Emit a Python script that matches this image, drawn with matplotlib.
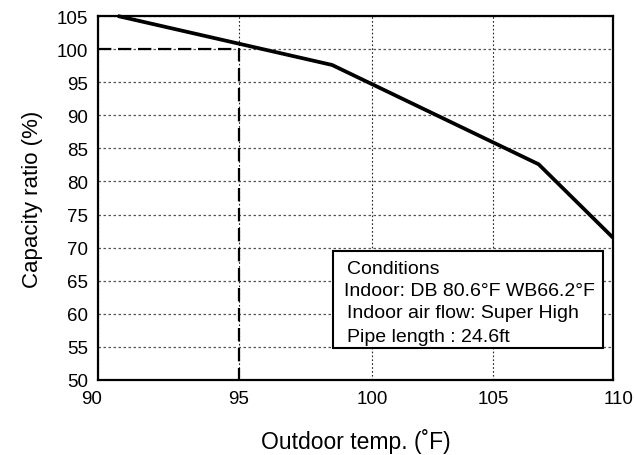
import numpy as np
import matplotlib
matplotlib.use("Agg")
import matplotlib.pyplot as plt
from matplotlib.transforms import ScaledTranslation

plt.rcParams['font.family'] = ['Liberation Sans', 'DejaVu Sans']

# Data
temp_f = [90.7, 98.5, 106.9, 110.0]
capacity = [105.0, 97.6, 82.6, 71.5]
ref_temp = 95
ref_cap = 100
x_ticks = [90, 95, 100, 105, 110]
y_ticks = list(range(50, 106, 5))
conditions = ["Conditions",
              "Indoor: DB 80.6°F WB66.2°F",
              "Indoor air flow: Super High",
              "Pipe length : 24.6ft"]

# Non-uniform x axis as drawn in the reference (tick value -> axis fraction)
scale_vals = [90, 95, 100, 105, 110]
scale_frac = [0.0, 0.2738, 0.5320, 0.7670, 1.0]

def fwd(x):
    return np.interp(x, scale_vals, scale_frac)

def inv(f):
    return np.interp(f, scale_frac, scale_vals)

fig = plt.figure(figsize=(6.34, 4.56), dpi=100)
ax = fig.add_axes([98/634, 1-381/456, (613-98)/634, (381-17)/456])
ax.set_xscale('function', functions=(fwd, inv))
ax.set_xlim(90, 110)
ax.set_ylim(50, 105)
ax.set_xticks(x_ticks)
ax.set_yticks(y_ticks)
ax.set_xticklabels([str(v) for v in x_ticks])
ax.tick_params(axis='both', length=0, labelsize=13.5)
ax.tick_params(axis='y', pad=7)
ax.tick_params(axis='x', pad=7)

# edge x tick labels sit slightly outside in the reference
xl = ax.get_xticklabels()
xl[0].set_transform(xl[0].get_transform() + ScaledTranslation(-6/100, 0, fig.dpi_scale_trans))
xl[-1].set_transform(xl[-1].get_transform() + ScaledTranslation(6/100, 0, fig.dpi_scale_trans))

ax.grid(True, axis='y', color='#555555', linestyle=(0, (2, 2)), linewidth=0.9)
ax.grid(True, axis='x', color='#222222', linestyle=(0, (1.5, 2)), linewidth=0.8)
ax.set_axisbelow(True)
for s in ax.spines.values():
    s.set_linewidth(1.6)
    s.set_color('black')

ax.plot(temp_f, capacity, color='black', linewidth=2.7, solid_capstyle='butt', zorder=4, clip_on=False)
ax.plot([90, ref_temp, ref_temp], [ref_cap, ref_cap, 50], color='black',
        linewidth=1.6, linestyle=(0, (6, 3)), zorder=3)

ax.set_xlabel("Outdoor temp. (˚F)", fontsize=16.5, labelpad=15)
ax.set_ylabel("Capacity ratio (%)", fontsize=16, labelpad=10)

# Conditions box
bx0, by0, bx1, by1 = 333, 252, 603, 349
rect = plt.Rectangle((bx0/634, 1-by1/456), (bx1-bx0)/634, (by1-by0)/456,
                     transform=fig.transFigure, facecolor='white',
                     edgecolor='black', linewidth=1.5, zorder=5)
fig.patches.append(rect)
line_y = [270, 291, 314, 337]
line_x = [347, 344, 347, 347]
for t, xx, yy in zip(conditions, line_x, line_y):
    fig.text(xx/634, 1-yy/456, t, fontsize=14, va='center', ha='left', zorder=6)

fig.savefig("out.png", dpi=100)
